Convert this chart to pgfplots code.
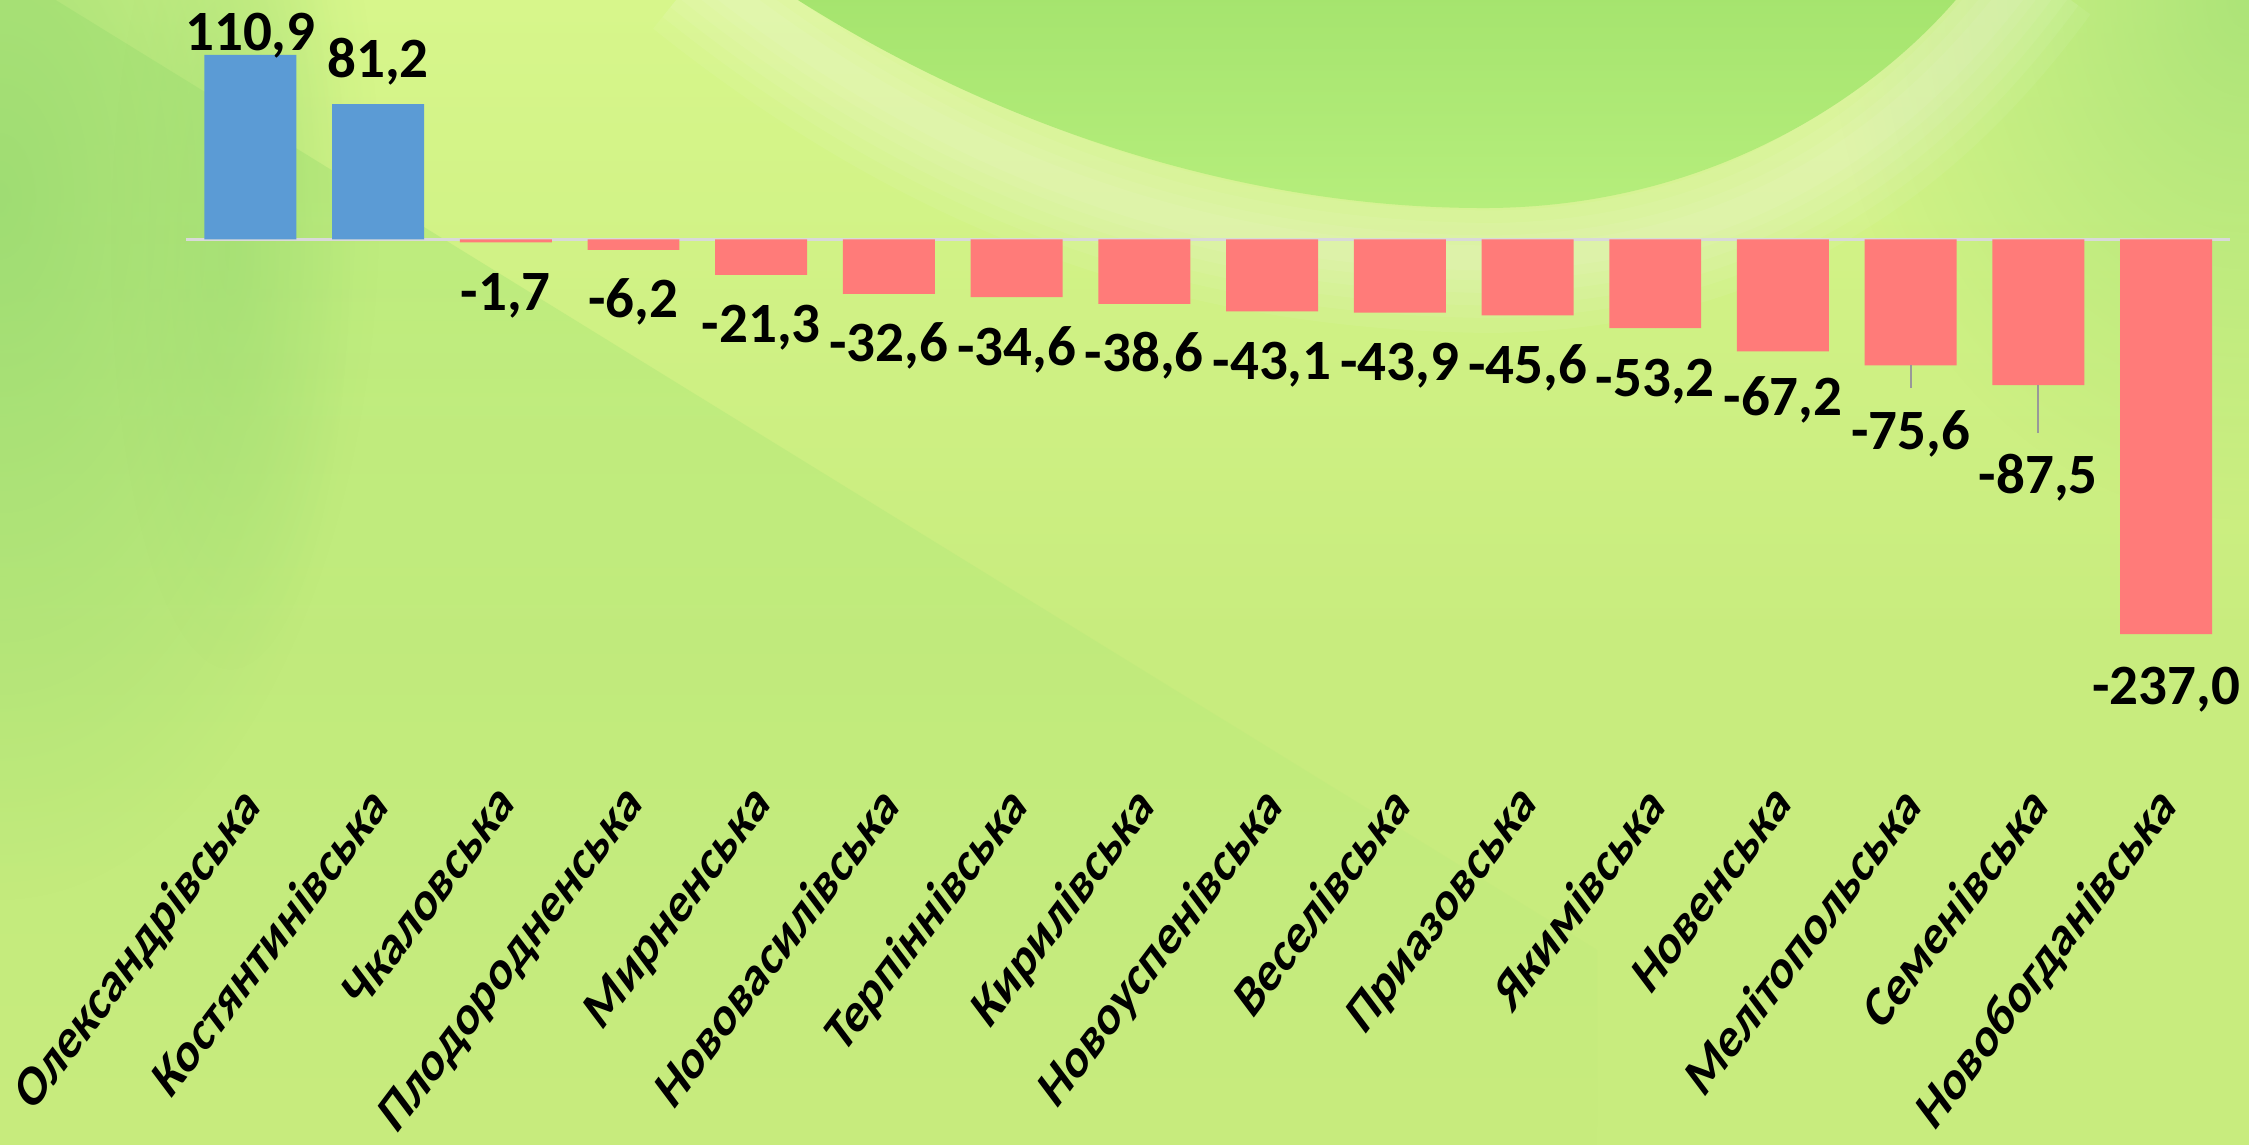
\documentclass[border=0pt]{standalone}
\usepackage{fontspec}
\setmainfont{Carlito}
\usepackage{pgfplots}
\usepackage{pgfplotstable}
\pgfplotsset{compat=1.18}
\usetikzlibrary{fadings}
\tikzfading[name=softout, inner color=transparent!0, outer color=transparent!100]

\definecolor{barblue}{HTML}{5B9BD5}
\definecolor{barred}{HTML}{FF7B79}
\definecolor{axisgray}{HTML}{D9D9D9}
\definecolor{bgbase}{HTML}{C8EC7E}
\definecolor{bgtop}{HTML}{D7F68B}
\definecolor{leftgreen}{HTML}{B5E97A}
\definecolor{darkgreen}{HTML}{9CDB72}
\definecolor{bowltop}{HTML}{A5E46E}
\definecolor{bowlbot}{HTML}{B6EE7C}
\definecolor{rightgreen}{HTML}{A8E276}

\pgfplotstableread{
x y off lab
0 110.9 2.35 110,9
1 81.2 13.5 81,2
}\posdata

\pgfplotstableread{
x y off err lab
2 -1.7 34 0 -1,7
3 -6.2 34 0 -6,2
4 -21.3 34 0 -21,3
5 -32.6 34 0 -32,6
6 -34.6 34 0 -34,6
7 -38.6 34 0 -38,6
8 -43.1 34 0 -43,1
9 -43.9 34 0 -43,9
10 -45.6 34 0 -45,6
11 -53.2 34 0 -53,2
12 -67.2 32 0 -67,2
13 -75.6 42 13.6 -75,6
14 -87.5 54 28.5 -87,5
15 -237.0 35 0 -237,0
}\negdata

\begin{document}
\begin{tikzpicture}
\useasboundingbox (0,0) rectangle (1124.5pt,572.5pt);
\clip (0,0) rectangle (1124.5pt,572.5pt);
\begin{scope}[x=0.5pt,y=-0.5pt,shift={(0,572.5pt)}]
  % base and upper light area
  \fill[bgbase] (0,0) rectangle (2249,1145);
  \shade[top color=bgtop, bottom color=bgbase] (0,0) rectangle (2249,640);
  % greener region below-left of the diagonal
  \fill[leftgreen, path fading=south, opacity=0.85] (0,0) -- (57,0) -- (1600,950) -- (1600,1145) -- (0,1145) -- cycle;
  % dark soft area on the far left
  \fill[darkgreen, path fading=softout, opacity=0.9] (0,200) ellipse [x radius=380, y radius=700];
  \fill[darkgreen, path fading=softout, opacity=0.45] (230,250) ellipse [x radius=120, y radius=420];
  % right medium green
  \fill[rightgreen, path fading=softout, opacity=0.9] (2249,0) ellipse [x radius=420, y radius=520];
  % light halo around the bowl
  \foreach \w in {150,120,95,70,45,25}
    \draw[white, line width=\w*0.5pt, opacity=0.06] (700,-30) .. controls (950,170) and (1200,255) .. (1490,258) .. controls (1760,255) and (1920,120) .. (2030,-30);
  % bowl
  \shade[top color=bowltop, bottom color=bowlbot] (790,-5) .. controls (1000,130) and (1250,210) .. (1492,208) .. controls (1720,205) and (1880,90) .. (1960,-5) -- cycle;
\end{scope}
\begin{axis}[
  at={(93.25pt,572.5pt)}, anchor=north west,
  scale only axis, width=1021.75pt, height=350pt,
  xmin=-0.5, xmax=15.5, ymin=-276.5, ymax=143.8,
  clip=false,
  axis line style={draw=none},
  major tick length=0pt,
  ytick=\empty,
  xtick={0,...,15},
  xticklabels={Олександрівська,Костянтинівська,Чкаловська,Плодородненська,Мирненська,Нововасилівська,Терпіннівська,Кирилівська,Новоуспенівська,Веселівська,Приазовська,Якимівська,Новенська,Мелітопольська,Семенівська,Новобогданівська},
  xticklabel style={yshift=-39.5pt, xshift=-5pt, yscale=1.33, rotate=45, anchor=north east, inner sep=0pt, font=\fontsize{22}{25}\selectfont\bfseries},
  nodes near coords style={font=\fontsize{28.5}{30}\selectfont\bfseries, text=black, inner sep=0pt},
]
\addplot[draw=axisgray, line width=1.5pt, mark=none] coordinates {(-0.5,0) (15.5,0)};
\addplot[ybar, bar width=0.72, bar shift=0pt, fill=barblue, draw=none,
  nodes near coords={\pgfplotspointmeta}, point meta=explicit symbolic,
  visualization depends on={\thisrow{off} \as \myoff},
  every node near coord/.append style={anchor=base, yshift=\myoff pt}]
  table[x=x, y=y, meta=lab] {\posdata};
\addplot[ybar, bar width=0.72, bar shift=0pt, fill=barred, draw=none,
  nodes near coords={\pgfplotspointmeta}, point meta=explicit symbolic,
  visualization depends on={\thisrow{off} \as \myoff},
  every node near coord/.append style={anchor=base, yshift=-\myoff pt},
  error bars/.cd, y dir=minus, y explicit, error mark=none,
  error bar style={draw=gray!80, line width=1pt}]
  table[x=x, y=y, y error=err, meta=lab] {\negdata};
\end{axis}
\end{tikzpicture}
\end{document}
